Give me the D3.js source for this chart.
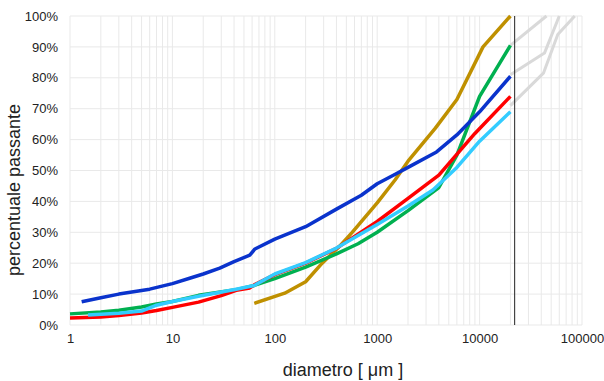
<!DOCTYPE html>
<html>
<head>
<meta charset="utf-8">
<script src="https://cdn.jsdelivr.net/npm/d3@7"></script>
<style>
  body { margin: 0; background: #fff; }
  svg { font-family: "Liberation Sans", Arial, sans-serif; }
</style>
</head>
<body>
<div id="chart"></div>
<script>
// diameters in µm, values in % passing
const bluePts  = [[1.3,7.5],[2,8.8],[3,10],[6,11.6],[10,13.4],[15,15.2],[20,16.5],[29,18.4],[40,20.5],[57,22.6],[64,24.6],[100,27.8],[200,31.8],[400,37.5],[700,42],[1000,45.7],[1500,48.8],[2000,51],[3800,56],[6000,61.5],[10000,69],[20000,80.5]];
const greenPts = [[1,3.6],[2,4.2],[3,4.8],[5,5.8],[7,6.8],[10,7.6],[18,9.6],[40,11.3],[63,12.8],[100,15],[200,18.7],[400,23],[650,26.3],[1000,30],[2000,37],[4000,44.5],[6000,55],[10000,74],[20000,90.5]];
const redPts   = [[1,2.3],[2,2.6],[3,3.1],[5,3.9],[7,4.7],[10,5.7],[18,7.4],[30,9.5],[42,11.2],[57,12],[63,13],[100,16.3],[200,20],[400,24.8],[1000,33.5],[2000,41],[4000,48.5],[9000,62],[20000,74]];
const cyanPts  = [[1.5,3.2],[3,3.8],[5,4.5],[7,6.4],[10,7.6],[18,9.3],[42,11.6],[63,12.8],[100,16.5],[200,20.2],[400,24.9],[1000,32.5],[2000,38.5],[3500,43.7],[6000,51],[10000,59.5],[20000,69]];
const goldPts  = [[63,7],[125,10.3],[200,14],[290,20],[430,25.5],[570,30],[1000,39.5],[1500,47],[2000,53],[3700,63.7],[6000,73],[10800,90],[20000,100]];
const greyPts1 = [[20000,90.5],[45000,100]];
const greyPts2 = [[20000,81],[43000,88],[60000,100]];
const greyPts3 = [[20000,71],[42000,81.5],[58000,94],[85000,100]];
const cutDiameter = 22000;

const xTicks = [1, 10, 100, 1000, 10000, 100000];
const yTicks = [0,10,20,30,40,50,60,70,80,90,100];

const width = 604, height = 381;
const margin = {top: 16, right: 22, bottom: 56, left: 70};
const w = width - margin.left - margin.right;
const h = height - margin.top - margin.bottom;

const x = d3.scaleLog().domain([1, 100000]).range([0, w]);
const y = d3.scaleLinear().domain([0, 100]).range([h, 0]);

const svg = d3.select('#chart').append('svg')
  .attr('width', width).attr('height', height);
const g = svg.append('g')
  .attr('transform', 'translate(' + margin.left + ',' + margin.top + ')');

// grid
const minor = [];
for (let e = 0; e < 5; e++) {
  for (let k = 1; k <= 9; k++) minor.push(k * Math.pow(10, e));
}
minor.push(100000);
g.append('g').selectAll('line').data(minor).enter().append('line')
  .attr('x1', d => x(d)).attr('x2', d => x(d))
  .attr('y1', 0).attr('y2', h)
  .attr('stroke', '#e9e9e9').attr('stroke-width', 1);
g.append('g').selectAll('line').data(yTicks).enter().append('line')
  .attr('x1', 0).attr('x2', w)
  .attr('y1', d => y(d)).attr('y2', d => y(d))
  .attr('stroke', '#e9e9e9').attr('stroke-width', 1);

// axes (labels only)
const axisY = g.append('g')
  .call(d3.axisLeft(y).tickValues(yTicks).tickFormat(d => d + '%').tickSize(0).tickPadding(12));
axisY.select('.domain').remove();
axisY.selectAll('text').attr('font-size', 13).attr('fill', '#222')
  .style('font-family', '"Liberation Sans", Arial, sans-serif');

const axisX = g.append('g')
  .attr('transform', 'translate(0,' + h + ')')
  .call(d3.axisBottom(x).tickValues(xTicks).tickFormat(d3.format('d')).tickSize(0).tickPadding(9));
axisX.select('.domain').remove();
axisX.selectAll('text').attr('font-size', 13).attr('fill', '#222')
  .style('font-family', '"Liberation Sans", Arial, sans-serif');

// lines
const line = d3.line().x(d => x(d[0])).y(d => y(d[1]));
const series = [
  {pts: greyPts1, color: '#d9d9d9', sw: 3},
  {pts: greyPts2, color: '#d9d9d9', sw: 3},
  {pts: greyPts3, color: '#d9d9d9', sw: 3},
  {pts: goldPts,  color: '#bf9000', sw: 3.5},
  {pts: greenPts, color: '#00b050', sw: 3.5},
  {pts: bluePts,  color: '#0a33cc', sw: 3.5},
  {pts: redPts,   color: '#ff0000', sw: 3.5},
  {pts: cyanPts,  color: '#33ccff', sw: 3.5}
];
g.append('g').selectAll('path').data(series).enter().append('path')
  .attr('d', d => line(d.pts))
  .attr('fill', 'none')
  .attr('stroke', d => d.color)
  .attr('stroke-width', d => d.sw)
  .attr('stroke-linejoin', 'round');

// cut line
g.append('line')
  .attr('x1', x(cutDiameter)).attr('x2', x(cutDiameter))
  .attr('y1', 0).attr('y2', h)
  .attr('stroke', '#222').attr('stroke-width', 1);

// titles
svg.append('text')
  .attr('x', margin.left + w / 2 + 17).attr('y', 376)
  .attr('text-anchor', 'middle').attr('font-size', 18).attr('fill', '#222')
  .text('diametro [ μm ]');
svg.append('text')
  .attr('transform', 'translate(20,' + 190 + ') rotate(-90)')
  .attr('text-anchor', 'middle').attr('font-size', 18).attr('fill', '#222')
  .text('percentuale passante');
</script>
</body>
</html>
